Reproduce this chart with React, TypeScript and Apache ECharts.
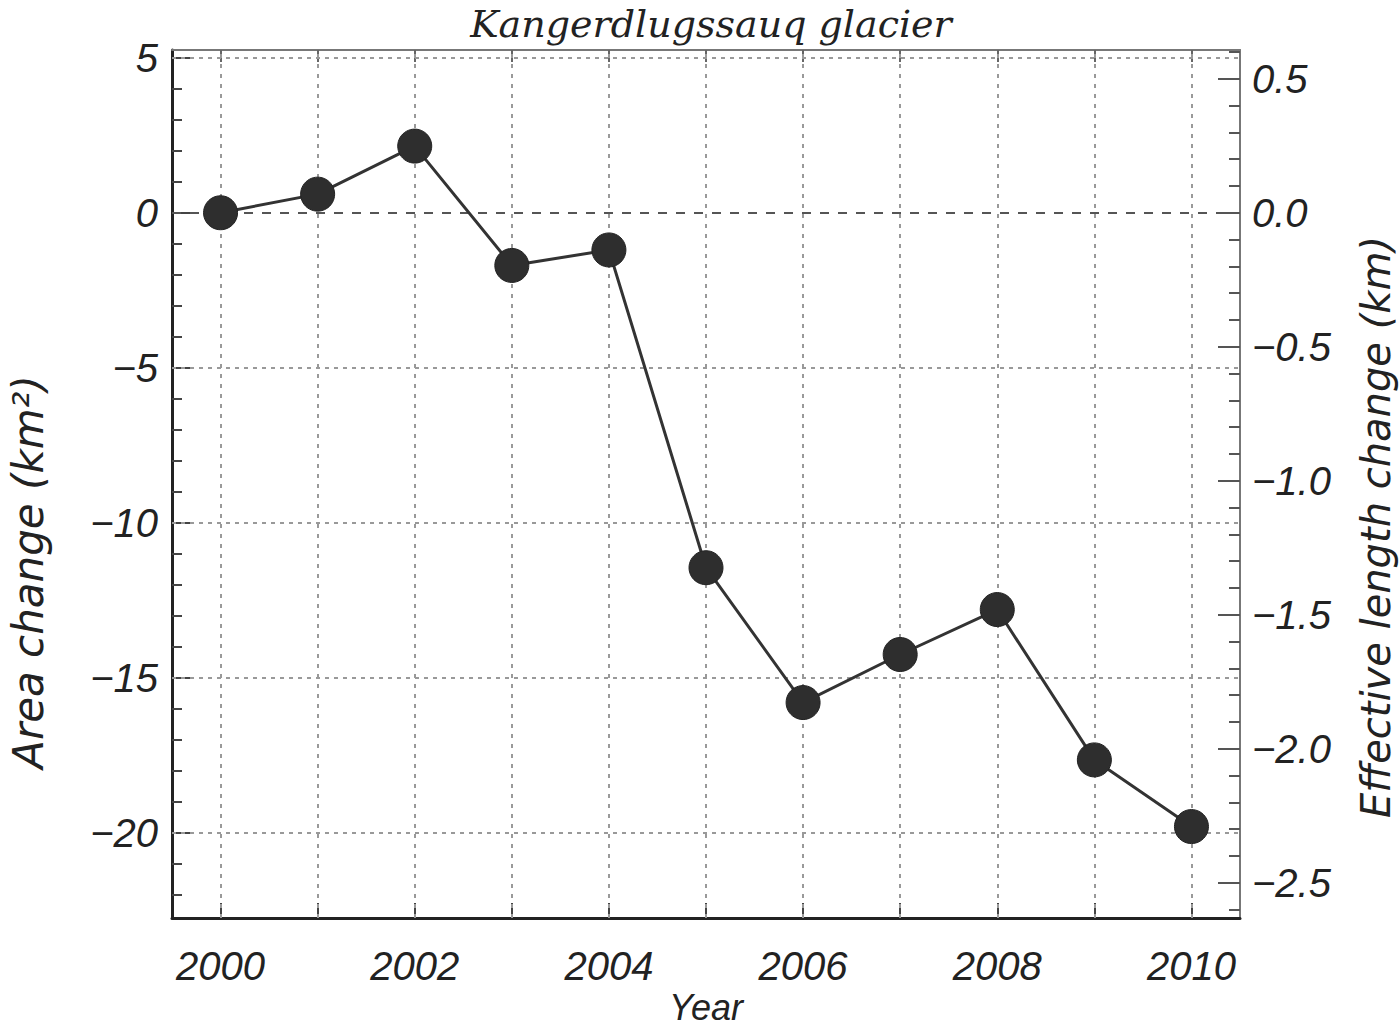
import React, { useEffect, useRef } from "react";
import * as echarts from "echarts";

const years = [2000, 2001, 2002, 2003, 2004, 2005, 2006, 2007, 2008, 2009, 2010];
const areaChange = [0, 0.6, 2.15, -1.7, -1.2, -11.45, -15.8, -14.25, -12.8, -17.65, -19.8];

const yearLabels = [2000, 2002, 2004, 2006, 2008, 2010];
const areaTicks = [5, 0, -5, -10, -15, -20];
const areaMinorTicks = [4, 3, 2, 1, -1, -2, -3, -4, -6, -7, -8, -9, -11, -12, -13, -14, -16, -17, -18, -19, -21, -22];
const lengthTicks = [0.5, 0, -0.5, -1, -1.5, -2, -2.5];
const lengthMinorTicks = [0.6, 0.4, 0.3, 0.2, 0.1, -0.1, -0.2, -0.3, -0.4, -0.6, -0.7, -0.8, -0.9, -1.1, -1.2, -1.3, -1.4, -1.6, -1.7, -1.8, -1.9, -2.1, -2.2, -2.3, -2.4, -2.6];
const gridLevels = [5, -5, -10, -15, -20];

const X_MIN = 1999.5;
const X_MAX = 2010.5;
const AREA_MIN = -22.75;
const AREA_MAX = 5.25;
const AREA_PER_KM = 8.645;

const LABEL_FONT = "Liberation Sans";
const fmtMinus = (v: number | string) => String(v).replace("-", "\u2212");

export default function App() {
  const ref = useRef<HTMLDivElement>(null);
  useEffect(() => {
    document.body.style.margin = "0";
    const chart = echarts.init(ref.current!, null, { renderer: "svg" });
    const labelStyle = {
      fontFamily: LABEL_FONT,
      fontStyle: "italic" as const,
      fontSize: 40,
      color: "#222",
    };
    const option: any = {
      animation: false,
      backgroundColor: "#fff",
      title: {
        text: "Kangerdlugssauq glacier",
        left: 706,
        textAlign: "center",
        top: 0,
        textStyle: {
          fontFamily: "DejaVu Serif",
          fontStyle: "italic",
          fontWeight: "normal",
          fontSize: 38,
          color: "#222",
        },
      },
      grid: { left: 172, top: 50, right: 160, bottom: 111, containLabel: false },
      xAxis: [
        {
          type: "value",
          position: "bottom",
          min: X_MIN,
          max: X_MAX,
          axisLine: { show: true, onZero: false, lineStyle: { color: "#222", width: 3 } },
          axisTick: { show: true, inside: true, length: 15, customValues: years, lineStyle: { color: "#444", width: 2 } },
          axisLabel: { ...labelStyle, customValues: yearLabels, margin: 28, formatter: (v: number) => String(v) },
          splitLine: { show: false },
        },
        {
          type: "value",
          position: "top",
          min: X_MIN,
          max: X_MAX,
          axisLine: { show: true, onZero: false, lineStyle: { color: "#777", width: 2 } },
          axisTick: { show: true, inside: true, length: 12, customValues: years, lineStyle: { color: "#666", width: 2 } },
          axisLabel: { show: false },
          splitLine: { show: false },
        },
      ],
      yAxis: [
        {
          type: "value",
          position: "left",
          min: AREA_MIN,
          max: AREA_MAX,
          axisLine: { show: true, onZero: false, lineStyle: { color: "#222", width: 3 } },
          axisTick: { show: true, inside: true, length: 20, customValues: areaTicks, lineStyle: { color: "#444", width: 2 } },
          axisLabel: { ...labelStyle, customValues: areaTicks, margin: 14, formatter: (v: number) => fmtMinus(v) },
          splitLine: { show: false },
        },
        {
          type: "value",
          position: "left",
          min: AREA_MIN,
          max: AREA_MAX,
          axisLine: { show: false },
          axisTick: { show: true, inside: true, length: 10, customValues: areaMinorTicks, lineStyle: { color: "#444", width: 2 } },
          axisLabel: { show: false },
          splitLine: { show: false },
        },
        {
          type: "value",
          position: "right",
          min: AREA_MIN / AREA_PER_KM,
          max: AREA_MAX / AREA_PER_KM,
          axisLine: { show: true, onZero: false, lineStyle: { color: "#777", width: 2 } },
          axisTick: { show: true, inside: true, length: 22, customValues: lengthTicks, lineStyle: { color: "#555", width: 2 } },
          axisLabel: { ...labelStyle, customValues: lengthTicks, margin: 12, formatter: (v: number) => fmtMinus(v.toFixed(1)) },
          splitLine: { show: false },
        },
        {
          type: "value",
          position: "right",
          min: AREA_MIN / AREA_PER_KM,
          max: AREA_MAX / AREA_PER_KM,
          axisLine: { show: false },
          axisTick: { show: true, inside: true, length: 11, customValues: lengthMinorTicks, lineStyle: { color: "#555", width: 2 } },
          axisLabel: { show: false },
          splitLine: { show: false },
        },
      ],
      graphic: [
        {
          type: "text",
          x: 28,
          y: 572,
          rotation: Math.PI / 2,
          style: {
            text: "Area change (km\u00b2)",
            font: "italic 42px 'DejaVu Sans'",
            fill: "#222",
            textAlign: "center",
            textVerticalAlign: "middle",
          },
        },
        {
          type: "text",
          x: 1376,
          y: 527,
          rotation: Math.PI / 2,
          style: {
            text: "Effective length change (km)",
            font: "italic 40px 'DejaVu Sans'",
            fill: "#222",
            textAlign: "center",
            textVerticalAlign: "middle",
          },
        },
        {
          type: "text",
          x: 706,
          y: 1007,
          style: {
            text: "Year",
            font: "italic 36px 'Liberation Sans'",
            fill: "#222",
            textAlign: "center",
            textVerticalAlign: "middle",
          },
        },
      ],
      series: [
        {
          type: "line",
          xAxisIndex: 0,
          yAxisIndex: 0,
          z: 3,
          data: years.map((y, i) => [y, areaChange[i]]),
          symbol: "circle",
          symbolSize: 34,
          itemStyle: { color: "#2e2e2e", borderColor: "#222", borderWidth: 1 },
          lineStyle: { color: "#333", width: 3 },
          markLine: {
            z: 1,
            silent: true,
            symbol: ["none", "none"],
            label: { show: false },
            data: [
              ...gridLevels.map((v) => ({
                yAxis: v,
                lineStyle: { color: "#999", width: 2, type: [4, 5] },
              })),
              { yAxis: 0, lineStyle: { color: "#555", width: 2, type: [9, 9] } },
              ...years.map((v) => ({
                xAxis: v,
                lineStyle: { color: "#999", width: 2, type: [4, 6] },
              })),
            ],
          },
        },
      ],
    };
    chart.setOption(option);
    return () => chart.dispose();
  }, []);
  return <div ref={ref} style={{ width: 1400, height: 1029 }} />;
}
